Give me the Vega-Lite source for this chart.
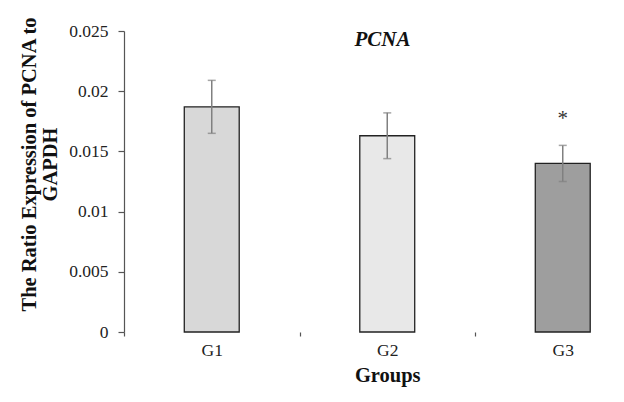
{
  "$schema": "https://vega.github.io/schema/vega-lite/v6.json",
  "autosize": {"type": "none"},
  "padding": {"left": 124, "top": 31, "right": 5, "bottom": 70},
  "width": 495,
  "height": 301,
  "background": "white",
  "title": {
    "text": "PCNA",
    "font": "Liberation Serif",
    "fontSize": 21,
    "fontWeight": "bold",
    "fontStyle": "italic",
    "color": "#111",
    "anchor": "middle",
    "frame": "group",
    "baseline": "alphabetic",
    "offset": -51,
    "dx": 11
  },
  "data": {
    "values": [
      {"group": "G1", "value": 0.0187, "lower": 0.0165, "upper": 0.0209, "sig": ""},
      {"group": "G2", "value": 0.0163, "lower": 0.0144, "upper": 0.0182, "sig": ""},
      {"group": "G3", "value": 0.0140, "lower": 0.0125, "upper": 0.0155, "sig": "*"}
    ]
  },
  "encoding": {
    "x": {
      "field": "group",
      "type": "nominal",
      "sort": null,
      "scale": {"range": [0, 526.5], "paddingInner": 0, "paddingOuter": 0},
      "axis": {
        "title": "Groups",
        "labelAngle": 0,
        "domain": false,
        "tickBand": "extent",
        "tickSize": 4,
        "tickColor": "#555",
        "labelPadding": 5,
        "titlePadding": 7
      }
    }
  },
  "layer": [
    {
      "mark": {"type": "bar", "width": {"band": 0.313}, "stroke": "#222", "strokeWidth": 1.3},
      "encoding": {
        "y": {
          "field": "value",
          "type": "quantitative",
          "scale": {"domain": [0, 0.025], "nice": false},
          "axis": {
            "title": ["The Ratio Expression of PCNA to", "GAPDH"],
            "values": [0, 0.005, 0.01, 0.015, 0.02, 0.025],
            "format": ".3~f",
            "grid": false,
            "tickSize": 6,
            "labelPadding": 10,
            "titleX": -89,
            "titleY": 133,
            "titleBaseline": "alphabetic",
            "titleLineHeight": 21
          }
        },
        "fill": {
          "field": "group",
          "type": "nominal",
          "scale": {"domain": ["G1", "G2", "G3"], "range": ["#d8d8d8", "#e8e8e8", "#9e9e9e"]},
          "legend": null
        }
      }
    },
    {
      "mark": {"type": "rule", "color": "#808080", "strokeWidth": 1.5},
      "encoding": {
        "y": {"field": "lower", "type": "quantitative"},
        "y2": {"field": "upper"}
      }
    },
    {
      "mark": {"type": "tick", "color": "#808080", "size": 8, "thickness": 1.5},
      "encoding": {"y": {"field": "upper", "type": "quantitative"}}
    },
    {
      "mark": {"type": "tick", "color": "#808080", "size": 8, "thickness": 1.5},
      "encoding": {"y": {"field": "lower", "type": "quantitative"}}
    },
    {
      "mark": {"type": "text", "font": "Liberation Serif", "fontSize": 21, "color": "#333", "baseline": "alphabetic", "dy": -20},
      "encoding": {
        "y": {"field": "upper", "type": "quantitative"},
        "text": {"field": "sig"}
      }
    },
    {
      "mark": {"type": "rule", "color": "#555", "strokeWidth": 1.2},
      "encoding": {"y": {"datum": 0}}
    }
  ],
  "config": {
    "view": {"stroke": null},
    "axis": {
      "labelFont": "Liberation Serif",
      "labelFontSize": 17.5,
      "labelColor": "#222",
      "titleFont": "Liberation Serif",
      "titleFontSize": 20.5,
      "titleFontWeight": "bold",
      "titleColor": "#111",
      "domainColor": "#555",
      "domainWidth": 1.2,
      "tickColor": "#555",
      "tickWidth": 1.2
    }
  }
}
